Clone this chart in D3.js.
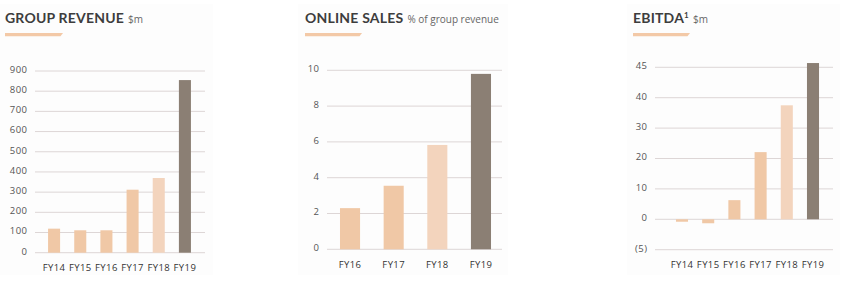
<!DOCTYPE html>
<html>
<head>
<meta charset="utf-8">
<script src="https://cdn.jsdelivr.net/npm/d3@7"></script>
<style>
  body { margin: 0; background: #fff; }
  svg { display: block; font-family: Lato, "Open Sans", sans-serif; }
</style>
</head>
<body>
<svg id="chart" width="852" height="281"></svg>
<script>
// group revenue $m
const revenueYears = ['FY14', 'FY15', 'FY16', 'FY17', 'FY18', 'FY19'];
const revenueValues = [119, 111, 111, 312, 370, 855];
const revenueTicks = [0, 100, 200, 300, 400, 500, 600, 700, 800, 900];

// online sales, % of group revenue
const onlineYears = ['FY16', 'FY17', 'FY18', 'FY19'];
const onlineValues = [2.3, 3.55, 5.83, 9.8];
const onlineTicks = [0, 2, 4, 6, 8, 10];

// EBITDA $m (axis in the source is evenly spaced, top labelled 45)
const ebitdaYears = ['FY14', 'FY15', 'FY16', 'FY17', 'FY18', 'FY19'];
const ebitdaValues = [-0.8, -1.3, 6.3, 22.1, 37.5, 51.4];
const ebitdaTicks = [-10, 0, 10, 20, 30, 40, 50];
const ebitdaTickLabels = ['(5)', '0', '10', '20', '30', '40', '45'];

const svg = d3.select('#chart');
const smallFont = '"Open Sans", Lato, sans-serif';

const barColor = (i, n) => {
    if (i === n - 1) return '#8b7f74';
    if (i === n - 2) return '#f3d4bd';
    return '#f0c8a6';
};

let panel = (settings) => {
    let g = svg.append('g');

    g.append('rect')
        .attr('x', settings.bg[0]).attr('y', 4)
        .attr('width', settings.bg[1] - settings.bg[0]).attr('height', 271)
        .attr('fill', '#fdfdfd');

    // title + unit
    let title = g.append('text')
        .attr('x', settings.titleX).attr('y', 23)
        .attr('font-size', 14).attr('font-weight', 700)
        .attr('fill', '#3d3d3d')
        .attr('letter-spacing', 0.2);
    title.append('tspan').text(settings.title);
    if (settings.sup) {
        title.append('tspan').text(settings.sup)
            .attr('font-size', 8).attr('dy', -5);
    }
    title.append('tspan').text(settings.unit)
        .attr('font-family', smallFont)
        .attr('font-size', 10).attr('font-weight', 400)
        .attr('fill', '#666').attr('letter-spacing', 0)
        .attr('dx', 4).attr('dy', settings.sup ? 5 : 0);

    // peach underline with slanted end
    let ux = settings.titleX, uw = settings.underline;
    g.append('path')
        .attr('d', `M${ux},33 L${ux + uw},33 L${ux + uw - 2.5},36.3 L${ux},36.3 Z`)
        .attr('fill', '#f3c9a7');

    let x = d3.scaleBand()
        .domain(settings.years)
        .range(settings.band)
        .paddingInner(0.54)
        .paddingOuter(0.27);

    let y = d3.scaleLinear()
        .domain(settings.domain)
        .range(settings.yRange);

    // gridlines
    g.selectAll('.grid')
        .data(settings.ticks)
        .enter()
        .append('line')
        .attr('x1', settings.grid[0]).attr('x2', settings.grid[1])
        .attr('y1', d => y(d)).attr('y2', d => y(d))
        .attr('stroke', '#ddd6d6').attr('stroke-width', 1);

    // y tick labels
    g.selectAll('.ytick')
        .data(settings.ticks)
        .enter()
        .append('text')
        .text((d, i) => settings.tickLabels ? settings.tickLabels[i] : d)
        .attr('x', settings.labelX)
        .attr('y', d => y(d) - 1.5)
        .attr('dy', '0.35em')
        .attr('text-anchor', 'end')
        .attr('font-family', smallFont)
        .attr('font-size', 9.5)
        .attr('letter-spacing', 0.5)
        .attr('fill', '#555');

    // bars
    let n = settings.years.length;
    g.selectAll('.bar')
        .data(settings.values)
        .enter()
        .append('rect')
        .attr('x', (d, i) => x(settings.years[i]))
        .attr('width', x.bandwidth())
        .attr('y', d => y(Math.max(0, d)))
        .attr('height', d => Math.abs(y(d) - y(0)))
        .attr('fill', (d, i) => barColor(i, n));

    // category labels
    g.selectAll('.xlabel')
        .data(settings.years)
        .enter()
        .append('text')
        .text(d => d)
        .attr('x', d => x(d) + x.bandwidth() / 2)
        .attr('y', settings.catY)
        .attr('text-anchor', 'middle')
        .attr('font-family', smallFont)
        .attr('font-size', 9.5)
        .attr('fill', '#333')
        .attr('letter-spacing', 0.4);
};

panel({
    bg: [0, 213], title: 'GROUP REVENUE', unit: '$m', titleX: 5, underline: 58,
    years: revenueYears, values: revenueValues, ticks: revenueTicks,
    domain: [0, 900], yRange: [252.7, 71], band: [41, 198], grid: [35, 205],
    labelX: 27.5, catY: 271
});

panel({
    bg: [298, 508], title: 'ONLINE SALES', unit: '% of group revenue', titleX: 305, underline: 57,
    years: onlineYears, values: onlineValues, ticks: onlineTicks,
    domain: [0, 10], yRange: [249.3, 70.3], band: [328.2, 502.8], grid: [327, 502],
    labelX: 319.5, catY: 268
});

panel({
    bg: [627, 840], title: 'EBITDA', sup: '1', unit: '$m', titleX: 633, underline: 57,
    years: ebitdaYears, values: ebitdaValues, ticks: ebitdaTicks, tickLabels: ebitdaTickLabels,
    domain: [-10, 50], yRange: [249.7, 67.3], band: [668.9, 826.1], grid: [655, 833],
    labelX: 647.5, catY: 268
});
</script>
</body>
</html>
